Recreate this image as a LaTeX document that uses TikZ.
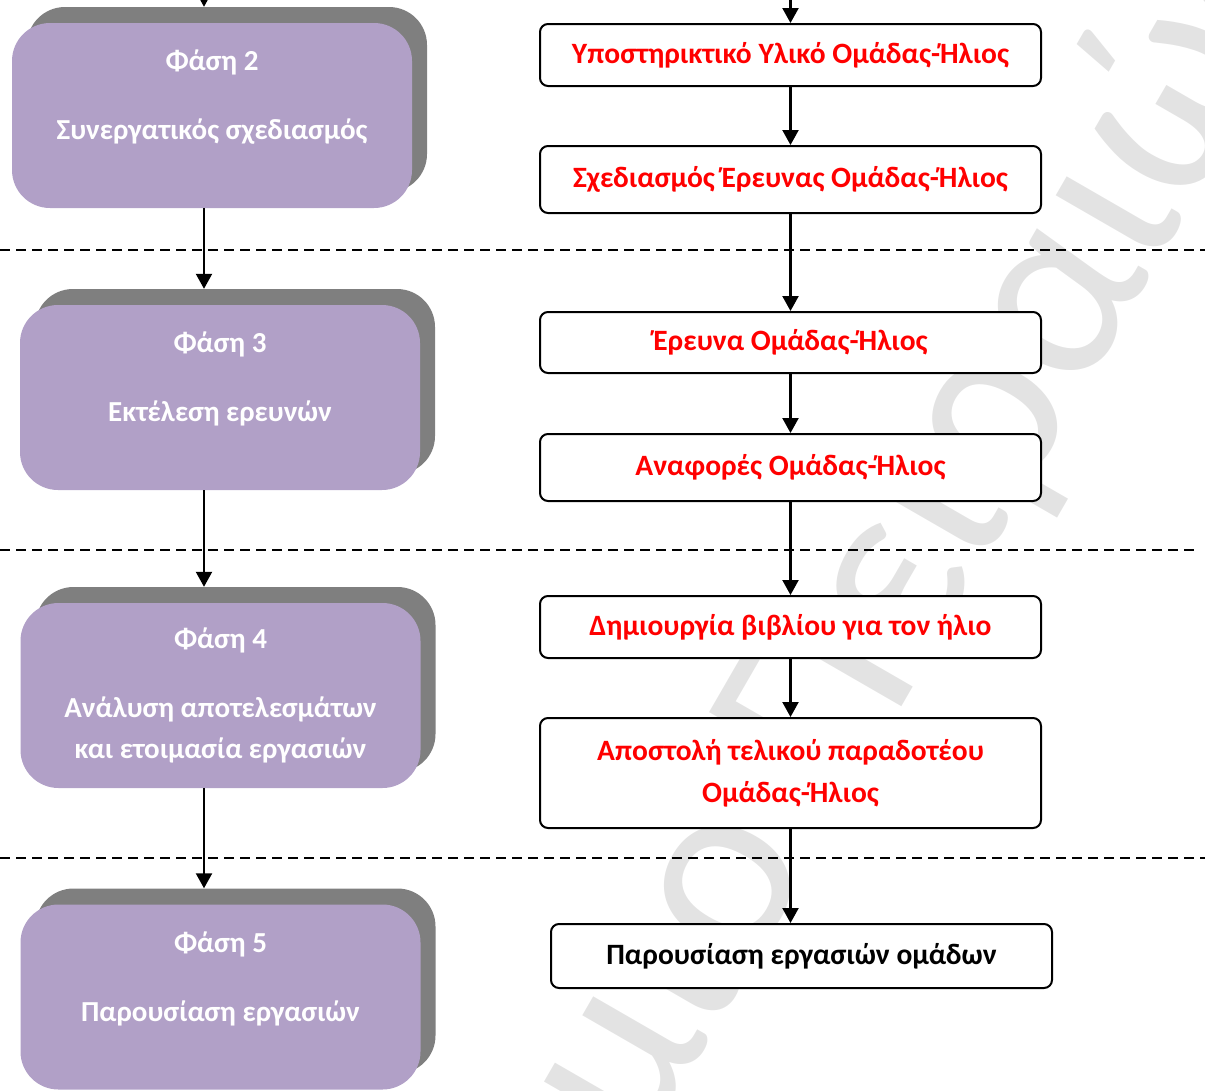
\documentclass[tikz,border=0pt]{standalone}
\usepackage{fontspec}
\setmainfont{Carlito}
\usetikzlibrary{arrows.meta,shadows,calc}
\definecolor{lilac}{HTML}{B1A0C7}
\definecolor{shgray}{HTML}{7F7F7F}
\begin{document}
\begin{tikzpicture}[x=1pt,y=-1pt,
  phase/.style={rounded corners=38pt, fill=lilac, minimum width=400pt, minimum height=185pt,
    inner sep=0pt, text=white, font=\bfseries\fontsize{29}{41}\selectfont, align=center,
    drop shadow={shadow xshift=15pt,shadow yshift=16pt,fill=shgray,opacity=1}},
  task/.style={draw=black, line width=2pt, rounded corners=8pt, fill=white,
    minimum width=501pt, inner sep=0pt, align=center,
    font=\bfseries\fontsize{29.5}{42}\selectfont, text=red},
  arr/.style={line width=2.2pt, -{Triangle[length=15pt,width=16pt]}},
  sep/.style={line width=1.5pt, dash pattern=on 10pt off 6pt},
  wm/.style={text=black, text opacity=0.11, font=\fontsize{255}{255}\selectfont,
    rotate=60, inner sep=0pt}
]
\useasboundingbox (0,0) rectangle (1205,1090);

% left phase boxes
\node[phase] (L2) at (212,115.5) {Φάση 2\\[28pt]Συνεργατικός σχεδιασμός\\\mbox{}};
\node[phase] (L3) at (220,397.5) {Φάση 3\\[28pt]Εκτέλεση ερευνών\\\mbox{}};
\node[phase] (L4) at (220.5,695.5) {Φάση 4\\[28pt]Ανάλυση αποτελεσμάτων\\και ετοιμασία εργασιών};
\node[phase] (L5) at (220.5,997) {Φάση 5\\[28pt]Παρουσίαση εργασιών\\\mbox{}};

% watermark
\coordinate (wmp) at (1080,398);
\node[wm, anchor=base east] (wmA) at (wmp) {Πανεπιστήμιο Πειρ};
\node[wm, anchor=base west] (wmB) at (wmp) {αιώς};

% dashed separators
\coordinate (s1a) at (0,250);   \coordinate (s1b) at (1205,250);
\coordinate (s2a) at (0,550);   \coordinate (s2b) at (1197,550);
\coordinate (s3a) at (0,858);   \coordinate (s3b) at (1205,858);
\draw[sep] (s1a) -- (s1b);
\draw[sep] (s2a) -- (s2b);
\draw[sep] (s3a) -- (s3b);

% right task boxes
\node[task, minimum height=62pt] (B1) at (790.5,55) {Υποστηρικτικό Υλικό Ομάδας-Ήλιος};
\node[task, minimum height=67pt] (B2) at (790.5,179.5) {Σχεδιασμός Έρευνας Ομάδας-Ήλιος};
\node[task, minimum height=61pt] (B3) at (790.5,342.5) {Έρευνα Ομάδας-Ήλιος};
\node[task, minimum height=67pt] (B4) at (790.5,467.5) {Αναφορές Ομάδας-Ήλιος};
\node[task, minimum height=62pt] (B5) at (790.5,627) {Δημιουργία βιβλίου για τον ήλιο};
\node[task, minimum height=110pt] (B6) at (790.5,773) {Αποστολή τελικού παραδοτέου\\Ομάδας-Ήλιος};
\node[task, minimum height=64pt, text=black] (B7) at (801.5,956) {Παρουσίαση εργασιών ομάδων};

% connectors, left column
\coordinate (ax) at (204,0);
\coordinate (topL) at (204,-20);
\draw[arr] (topL) -- ($(L2.north -| ax)+(0,-16)$);
\draw[arr] (L2.south -| ax) -- ($(L3.north -| ax)+(0,-16)$);
\draw[arr] (L3.south -| ax) -- ($(L4.north -| ax)+(0,-16)$);
\draw[arr] (L4.south -| ax) -- ($(L5.north -| ax)+(0,-16)$);

% connectors, right column
\coordinate (topR) at (790.5,-20);
\draw[arr] (topR) -- (B1.north);
\draw[arr] (B1.south) -- (B2.north);
\draw[arr] (B2.south) -- (B3.north);
\draw[arr] (B3.south) -- (B4.north);
\draw[arr] (B4.south) -- (B5.north);
\draw[arr] (B5.south) -- (B6.north);
\draw[arr] (B6.south) -- (B6.south |- B7.north);
\end{tikzpicture}
\end{document}
